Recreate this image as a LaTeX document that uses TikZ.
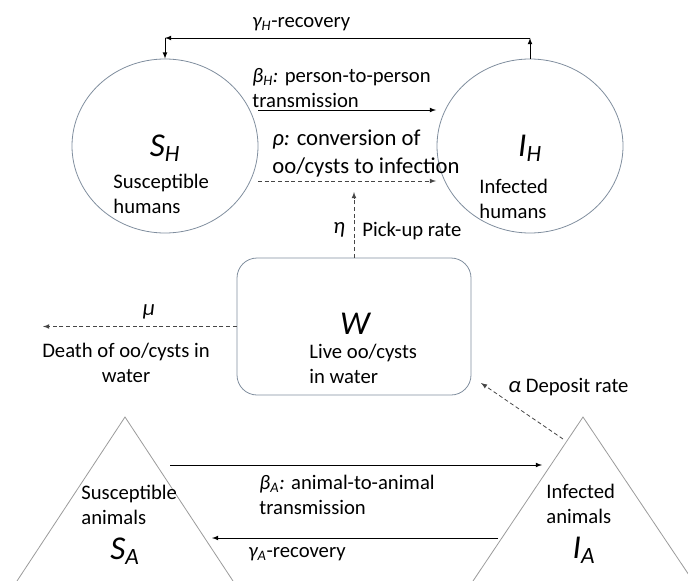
\documentclass[tikz,border=0pt]{standalone}
\usepackage{fontspec}
\setmainfont{Carlito}
\usetikzlibrary{shapes.geometric}

\definecolor{rimblue}{RGB}{128,142,158}
\definecolor{rimgray}{RGB}{155,155,155}
\definecolor{dashgray}{RGB}{70,70,70}

\newcommand{\smalltxt}{\fontsize{15.5}{19}\selectfont}
\newcommand{\midtxt}{\fontsize{17}{21}\selectfont}
\newcommand{\bigsym}{\fontsize{25}{30}\selectfont\itshape}
\newcommand{\isub}[1]{\textsubscript{\itshape #1}}

\begin{document}
\begin{tikzpicture}[> = latex, x = 0.75pt, y = -0.75pt, line width = 0.6pt,
	lbl/.style = {inner sep = 0, font = \smalltxt, align = left},
	sym/.style = {inner sep = 0, font = \bigsym},
	flowd/.style = {->, dashgray, dash pattern = on 3pt off 2pt}]

	\useasboundingbox (0, 0) rectangle (688, 581);

	% Compartments
	
	\node (SH) [draw = rimblue, ellipse, inner sep = 0, minimum width = 139.5pt, minimum height = 130.5pt] at (165, 146) {};
	\node (IH) [draw = rimblue, ellipse, inner sep = 0, minimum width = 139.5pt, minimum height = 130.5pt] at (530, 146) {};
	\node (W) [draw = rimblue, rounded corners = 15pt, inner sep = 0, minimum width = 175.5pt, minimum height = 102.75pt] at (354, 326.5) {};
	
	\draw [rimgray] (17, 581) -- (125, 417) -- (233, 581);
	\draw [rimgray] (473, 581) -- (583, 417) -- (693, 581);
	
	% Labels inside
	
	\node (SHsym) [sym] at (165, 148) {S\isub{H}};
	\node (SHtxt) [lbl, anchor = west] at (113, 194) {Susceptible\\humans};
	\node (IHsym) [sym] at (530, 148) {I\isub{H}};
	\node (IHtxt) [lbl, anchor = west] at (479, 199) {Infected\\humans};
	\node (Wsym) [sym] at (355, 324) {W};
	\node (Wtxt) [lbl, anchor = west] at (309, 364) {Live oo/cysts\\in water};
	\node (SAtxt) [lbl, anchor = west] at (81, 505) {Susceptible\\animals};
	\node (SAsym) [sym] at (125, 551) {S\isub{A}};
	\node (IAtxt) [lbl, anchor = west] at (546, 504) {Infected\\animals};
	\node (IAsym) [sym] at (584, 550) {I\isub{A}};
	
	% Connectors
	
	\coordinate (gHr) at (530, 38);
	\coordinate (gHl) at (165, 38);
	\draw [->] (IH.north) -- (gHr);
	\draw [->] (gHr) -- (gHl);
	\draw [->] (gHl) -- (SH.north);
	
	\coordinate (bHs) at (258, 110);
	\coordinate (bHe) at (436, 110);
	\draw [->] (bHs) -- (bHe);
	
	\coordinate (rhos) at (258, 181);
	\coordinate (rhoe) at (436, 181);
	\draw [flowd] (rhos) -- (rhoe);
	
	\coordinate (etae) at (354, 192);
	\draw [flowd] (W.north) -- (etae);
	
	\coordinate (mue) at (43, 326.5);
	\draw [flowd] (W.west) -- (mue);
	
	\coordinate (als) at (563, 439);
	\coordinate (ale) at (481, 383);
	\draw [flowd] (als) -- (ale);
	
	\coordinate (bAs) at (170, 465);
	\coordinate (bAe) at (542, 465);
	\draw [->] (bAs) -- (bAe);
	
	\coordinate (gAs) at (498, 538);
	\coordinate (gAe) at (212, 538);
	\draw [->] (gAs) -- (gAe);
	
	% Rate labels
	
	\node (gHlbl) [lbl, anchor = west] at (252, 24) {{\itshape γ\isub{H}}-recovery};
	\node (bHlbl) [lbl, anchor = west] at (252, 88) {{\itshape β\isub{H}:} person-to-person\\transmission};
	\node (rholbl) [lbl, font = \midtxt, anchor = west] at (272, 154) {{\itshape ρ:} conversion of\\oo/cysts to infection};
	\node (etalbl) [lbl, font = \midtxt\itshape] at (339, 230) {η};
	\node (pulbl) [lbl, anchor = west] at (362, 231) {Pick-up rate};
	\node (mulbl) [lbl, font = \midtxt\itshape] at (149, 312) {μ};
	\node (deathlbl) [lbl, align = center] at (126, 363) {Death of oo/cysts in\\water};
	\node (allbl) [lbl, anchor = west] at (508, 387) {{\midtxt\itshape α} Deposit rate};
	\node (bAlbl) [lbl, anchor = west] at (259, 495) {{\itshape β\isub{A}:} animal-to-animal\\transmission};
	\node (gAlbl) [lbl, anchor = west] at (248, 554) {{\itshape γ\isub{A}}-recovery};

\end{tikzpicture}
\end{document}
